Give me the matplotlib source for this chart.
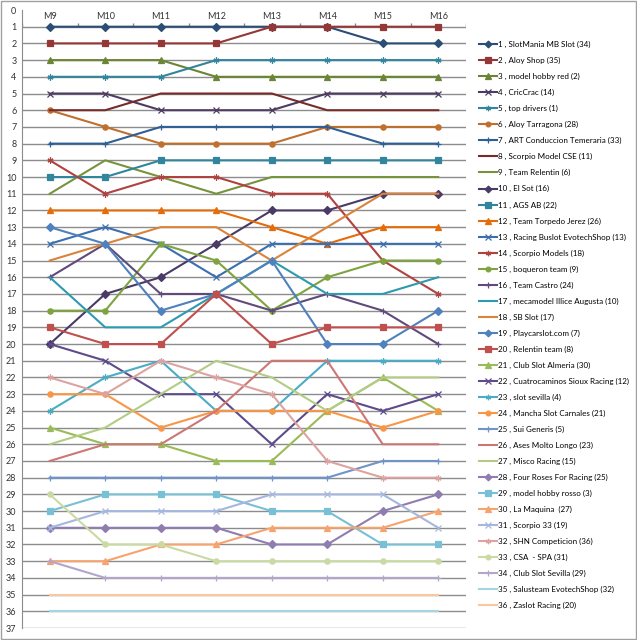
import matplotlib
matplotlib.use('Agg')
import matplotlib.pyplot as plt
from matplotlib.lines import Line2D
from matplotlib.patches import Rectangle

plt.rcParams['font.family'] = ['Lato', 'DejaVu Sans']

rounds = ['M9', 'M10', 'M11', 'M12', 'M13', 'M14', 'M15', 'M16']

teams = ['SlotMania MB Slot (34)', 'Aloy Shop (35)', 'model hobby red (2)', 'CricCrac (14)',
         'top drivers (1)', 'Aloy Tarragona (28)', 'ART Conduccion Temeraria (33)',
         'Scorpio Model CSE (11)', 'Team Relentin (6)', 'El Sot (16)', 'AGS AB (22)',
         'Team Torpedo Jerez (26)', 'Racing Buslot EvotechShop (13)', 'Scorpio Models (18)',
         'boqueron team (9)', 'Team Castro (24)', 'mecamodel Illice Augusta (10)', 'SB Slot (17)',
         'Playcarslot.com (7)', 'Relentin team (8)', 'Club Slot Almeria (30)',
         'Cuatrocaminos Sioux Racing (12)', 'slot sevilla (4)', 'Mancha Slot Carnales (21)',
         'Sui Generis (5)', 'Ases Molto Longo (23)', 'Misco Racing (15)',
         'Four Roses For Racing (25)', 'model hobby rosso (3)', 'La Maquina  (27)',
         'Scorpio 33 (19)', 'SHN Competicion (36)', 'CSA  - SPA (31)', 'Club Slot Sevilla (29)',
         'Salusteam EvotechShop (32)', 'Zaslot Racing (20)']

# position of each team in rounds M9..M16
ranks = [
    [1, 1, 1, 1, 1, 1, 2, 2],
    [2, 2, 2, 2, 1, 1, 1, 1],
    [3, 3, 3, 4, 4, 4, 4, 4],
    [5, 5, 6, 6, 6, 5, 5, 5],
    [4, 4, 4, 3, 3, 3, 3, 3],
    [6, 7, 8, 8, 8, 7, 7, 7],
    [8, 8, 7, 7, 7, 7, 8, 8],
    [6, 6, 5, 5, 5, 6, 6, 6],
    [11, 9, 10, 11, 10, 10, 10, 10],
    [20, 17, 16, 14, 12, 12, 11, 11],
    [10, 10, 9, 9, 9, 9, 9, 9],
    [12, 12, 12, 12, 13, 14, 13, 13],
    [14, 13, 14, 16, 14, 14, 14, 14],
    [9, 11, 10, 10, 11, 11, 15, 17],
    [18, 18, 14, 15, 18, 16, 15, 15],
    [16, 14, 17, 17, 18, 17, 18, 20],
    [16, 19, 19, 17, 15, 17, 17, 16],
    [15, 14, 13, 13, 15, 13, 11, 11],
    [13, 14, 18, 17, 15, 20, 20, 18],
    [19, 20, 20, 17, 20, 19, 19, 19],
    [25, 26, 26, 27, 27, 24, 22, 24],
    [20, 21, 23, 23, 26, 23, 24, 23],
    [24, 22, 21, 24, 24, 21, 21, 21],
    [23, 23, 25, 24, 24, 24, 25, 24],
    [28, 28, 28, 28, 28, 28, 27, 27],
    [27, 26, 26, 24, 21, 21, 26, 26],
    [26, 25, 23, 21, 22, 24, 22, 22],
    [31, 31, 31, 31, 32, 32, 30, 29],
    [30, 29, 29, 29, 30, 30, 32, 32],
    [33, 33, 32, 32, 31, 31, 31, 30],
    [31, 30, 30, 30, 29, 29, 29, 31],
    [22, 23, 21, 22, 23, 27, 28, 28],
    [29, 32, 32, 33, 33, 33, 33, 33],
    [33, 34, 34, 34, 34, 34, 34, 34],
    [36, 36, 36, 36, 36, 36, 36, 36],
    [35, 35, 35, 35, 35, 35, 35, 35],
]

colors = ['#2C4D75', '#953735', '#6A8533', '#4D3B62', '#31859C', '#C0702E',
          '#2F5F94', '#772C2A', '#77933C', '#4A3A66', '#31859C', '#E46C0A',
          '#3B6FAF', '#B0423F', '#7FA33F', '#604A7B', '#2E9AB0', '#D9843B',
          '#4F81BD', '#C0504D', '#9BBB59', '#5F4B8B', '#4BACC6', '#F79646',
          '#7093C8', '#CD7775', '#B3CC85', '#8F7DB0', '#78C0D4', '#F7A36E',
          '#A5B7DC', '#DCA3A1', '#C9DAA2', '#B2A6C9', '#A5D5E2', '#FAC8A0']
markers = ['D', 's', '^', 'x', (6, 2, 0), 'o', '+', None, None]

fig = plt.figure(figsize=(6.37, 6.40), dpi=100)
ax = fig.add_axes([22 / 637, 12 / 640, 444 / 637, 618 / 640])

x = list(range(len(rounds)))
handles = []
for i in range(len(teams)):
    m = markers[i % 9]
    ms = 3.8 if m in ('D', 'o') else 4.3
    if m == 's':
        ms = 4.8
    ax.plot(x, ranks[i], color=colors[i], lw=1.5, marker=m, ms=ms,
            mfc=colors[i], mec=colors[i], mew=0.9, zorder=3)
    handles.append(Line2D([], [], color=colors[i], lw=1.5, marker=m, ms=ms * 0.9,
                          mfc=colors[i], mec=colors[i], mew=0.9))

ax.set_ylim(37, 0)
ax.set_xlim(-0.5, len(rounds) - 0.5)
ax.set_yticks(range(0, 38))
ax.tick_params(axis='y', length=0, labelsize=6.5, pad=4, colors='#333333')
for v in range(1, 38):
    ax.axhline(v, color='#8C8C8C', lw=1, zorder=1)
ax.vlines([b - 0.5 for b in range(len(rounds) + 1)], 0.75, 1, color='#8C8C8C', lw=1)

ax.set_xticks(x)
ax.set_xticklabels(rounds)
ax.xaxis.tick_top()
ax.tick_params(axis='x', length=0, labelsize=6.5, pad=-8, colors='#333333')

for s in ['top', 'right', 'bottom']:
    ax.spines[s].set_visible(False)
ax.spines['left'].set_color('#8C8C8C')

labels = ['%d , %s' % (i + 1, t) for i, t in enumerate(teams)]
fig.legend(handles, labels, loc='upper left', bbox_to_anchor=(479 / 637, 1 - 41 / 640),
           frameon=False, fontsize=5.8, labelspacing=1.1, handlelength=2.2,
           handletextpad=0.2, borderpad=0, borderaxespad=0)

fig.patches.append(Rectangle((0.001, 0.001), 0.997, 0.997, transform=fig.transFigure,
                             fill=False, edgecolor='#A0A0A0', lw=1))

fig.savefig('out.png', dpi=100)
